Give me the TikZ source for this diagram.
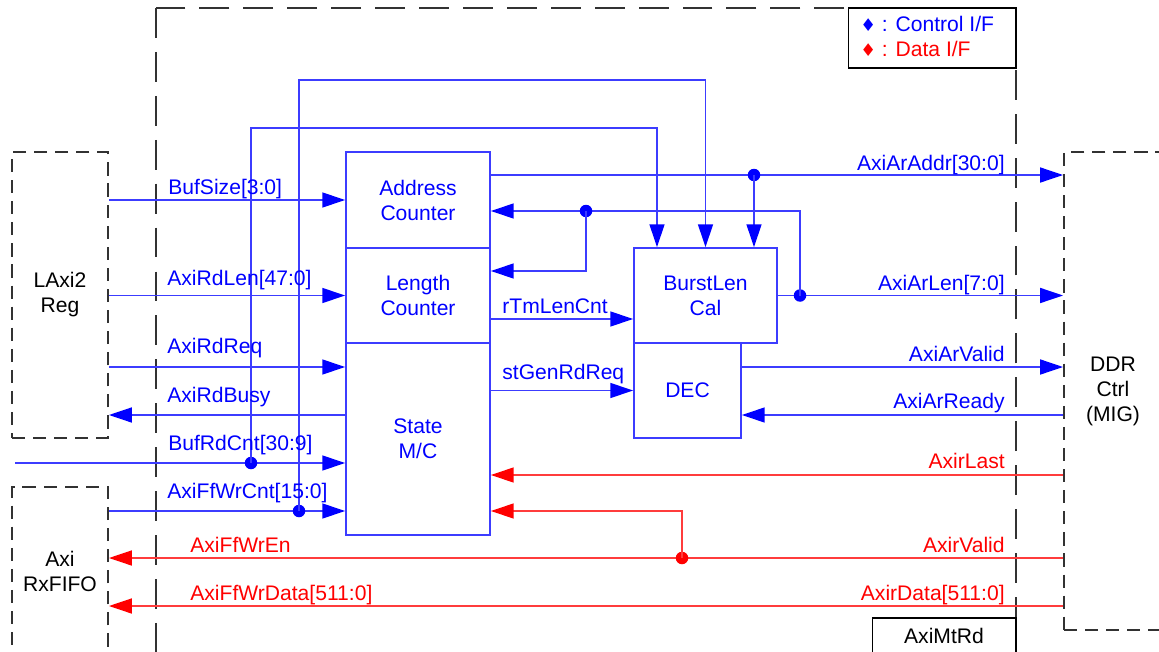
\documentclass[tikz,border=0pt]{standalone}
\usepackage{fontspec}
\setmainfont{Liberation Sans}
\newfontfamily\symfont{DejaVu Sans}
\usetikzlibrary{arrows.meta}

\definecolor{ctlblue}{RGB}{0,0,255}
\definecolor{ctlline}{RGB}{60,60,255}
\definecolor{datred}{RGB}{255,0,0}
\definecolor{datline}{RGB}{255,60,60}
\definecolor{ifgray}{RGB}{50,50,50}

\tikzset{
  blk/.style={draw=ctlline, line width=1pt, text=ctlblue, align=center, inner sep=0pt},
  iobox/.style={draw=ifgray, line width=1.1pt, dash pattern=on 7.5pt off 4.5pt, align=center, inner sep=0pt, text=black},
  sig/.style={draw=ctlline, line width=0.95pt, -{Triangle[length=13pt,width=8.5pt,color=ctlblue]}},
  dat/.style={draw=datline, line width=0.95pt, -{Triangle[length=13pt,width=8.5pt,color=datred]}},
  dot/.style={circle, fill=ctlblue, inner sep=0pt, minimum size=0.25cm},
  rdot/.style={circle, fill=datred, inner sep=0pt, minimum size=0.25cm},
  lbl/.style={text=ctlblue, inner sep=0pt, anchor=base west},
  lblr/.style={text=ctlblue, inner sep=0pt, anchor=base east},
  dlbl/.style={text=datred, inner sep=0pt, anchor=base west},
  dlblr/.style={text=datred, inner sep=0pt, anchor=base east},
}

\begin{document}
\begin{tikzpicture}[x=0.02cm, y=-0.02cm, font=\fontsize{12}{14.2}\selectfont]
        \useasboundingbox (0,0) rectangle (1159,652);
        \clip (0,0) rectangle (1159,652);

        % module boundary and legend
        \draw[ifgray, line width=1.3pt, dash pattern=on 17pt off 8pt] (156,8) rectangle (1016,700);
        \node[draw=black, line width=0.6pt, fill=white, minimum width=3.36cm, minimum height=1.2cm] (legend) at (932,38) {};
        \node[lbl] (legC) at (860,32) {{\symfont\fontsize{10}{10}\selectfont ♦} : Control I/F};
        \node[dlbl] (legD) at (860,57) {{\symfont\fontsize{10}{10}\selectfont ♦} : Data I/F};
        \node[draw=black, line width=0.6pt, fill=white, minimum width=2.88cm, minimum height=0.72cm] (mtrd) at (944,636) {AxiMtRd};

        % outside blocks
        \node[iobox, minimum width=1.92cm, minimum height=5.72cm] (lreg) at (60,295) {LAxi2\\Reg};
        \node[iobox, minimum width=1.92cm, minimum height=3.38cm] (fifo) at (60,571.5) {Axi\\RxFIFO};
        \node[iobox, minimum width=1.96cm, minimum height=9.56cm] (ddr) at (1113,391) {DDR\\Ctrl\\(MIG)};

        % inside blocks
        \node[blk, minimum width=2.88cm, minimum height=1.92cm] (addr) at (418,200) {Address\\Counter};
        \node[blk, minimum width=2.88cm, minimum height=1.9cm] (len) at (418,295.5) {Length\\Counter};
        \node[blk, minimum width=2.88cm, minimum height=3.84cm] (fsm) at (418,439) {State\\M/C};
        \node[blk, minimum width=2.86cm, minimum height=1.9cm] (burst) at (705.5,295.5) {BurstLen\\Cal};
        \node[blk, minimum width=2.14cm, minimum height=1.9cm] (dec) at (687.5,390.5) {DEC};

        % control signals
        \draw[sig] (lreg.east |- addr.west) -- (addr.west);
        \draw[sig] (lreg.east |- len.west) -- (len.west);
        \draw[sig] (lreg.east |- 0,367) -- (fsm.west |- 0,367);
        \draw[sig] (fsm.west |- 0,415) -- (lreg.east |- 0,415);
        \coordinate (bufin) at (15,463);
        \draw[sig] (bufin) -- (fsm.west |- bufin);
        \draw[sig] (fifo.east |- 0,511) -- (fsm.west |- 0,511);
        \node[dot] (dBuf) at (251,463) {};
        \node[dot] (dFf) at (299,511) {};
        \draw[sig] (dBuf.center) |- (657,128) -- (burst.north -| 657,0);
        \draw[sig] (dFf.center) |- (705.5,80) -- (burst.north);

        \draw[sig] (addr.east |- 0,175) -- (ddr.west |- 0,175);
        \node[dot] (dAddr) at (754,175) {};
        \draw[sig] (dAddr.center) -- (burst.north -| dAddr);
        \draw[sig] (burst.east) -- (ddr.west |- burst.east);
        \node[dot] (dLen) at (800,295.5) {};
        \draw[sig] (dLen.center) |- (addr.east |- 0,211);
        \node[dot] (dBack) at (586,211) {};
        \draw[sig] (dBack.center) |- (len.east |- 0,271);
        \draw[sig] (len.east |- 0,319) -- (burst.west |- 0,319);
        \draw[sig] (fsm.east |- dec.west) -- (dec.west);
        \draw[sig] (dec.east |- 0,367) -- (ddr.west |- 0,367);
        \draw[sig] (ddr.west |- 0,415) -- (dec.east |- 0,415);

        % data signals
        \draw[dat] (ddr.west |- 0,475) -- (fsm.east |- 0,475);
        \draw[dat] (ddr.west |- 0,558) -- (fifo.east |- 0,558);
        \node[rdot] (dValid) at (682,558) {};
        \draw[dat] (dValid.center) |- (fsm.east |- 0,511);
        \draw[dat] (ddr.west |- 0,606) -- (fifo.east |- 0,606);

        % labels
        \node[lbl] (tBufSize) at (168,194) {BufSize[3:0]};
        \node[lbl] (tRdLen) at (167,285) {AxiRdLen[47:0]};
        \node[lbl] (tRdReq) at (167,353) {AxiRdReq};
        \node[lbl] (tRdBusy) at (167,402) {AxiRdBusy};
        \node[lbl] (tBufRdCnt) at (168,450) {BufRdCnt[30:9]};
        \node[lbl] (tFfWrCnt) at (167,498) {AxiFfWrCnt[15:0]};
        \node[lbl] (tTmLen) at (502,313) {rTmLenCnt};
        \node[lbl] (tGenRd) at (502,379) {stGenRdReq};
        \node[lblr] (tArAddr) at (1005,170) {AxiArAddr[30:0]};
        \node[lblr] (tArLen) at (1005,290) {AxiArLen[7:0]};
        \node[lblr] (tArValid) at (1005,361) {AxiArValid};
        \node[lblr] (tArReady) at (1005,408) {AxiArReady};
        \node[dlblr] (trLast) at (1005,468) {AxirLast};
        \node[dlblr] (trValid) at (1005,552) {AxirValid};
        \node[dlblr] (trData) at (1005,600) {AxirData[511:0]};
        \node[dlbl] (tFfWrEn) at (190,552) {AxiFfWrEn};
        \node[dlbl] (tFfWrData) at (190,600) {AxiFfWrData[511:0]};
\end{tikzpicture}
\end{document}
